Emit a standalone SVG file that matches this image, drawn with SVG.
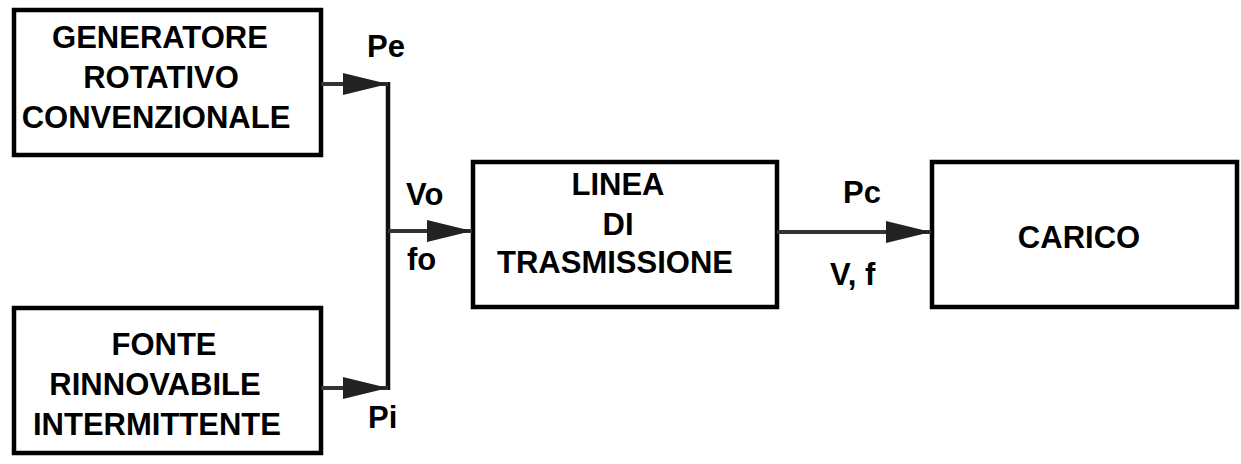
<svg xmlns="http://www.w3.org/2000/svg" width="1241" height="464" viewBox="0 0 1241 464">
<defs>
<style>
.box{fill:#fff;stroke:#000;stroke-width:4.5}
.t{font-family:"Liberation Sans",Arial,sans-serif;font-weight:bold;font-size:31px;fill:#000;text-anchor:middle}
.l{font-family:"Liberation Sans",Arial,sans-serif;font-weight:bold;font-size:31px;fill:#000}
.w{stroke:#111;stroke-width:4.5;fill:none}
.c{stroke:#333;stroke-width:4;fill:none}
</style>
<marker id="ah" markerUnits="userSpaceOnUse" markerWidth="46" markerHeight="26" refX="45" refY="13" orient="auto">
<path d="M0,2 L45,13 L0,24 Z" fill="#222"/>
</marker>
</defs>
<g id="generatore">
<rect class="box" x="14" y="10" width="307" height="145"/>
<text class="t" x="160" y="48">GENERATORE</text>
<text class="t" x="161" y="88">ROTATIVO</text>
<text class="t" x="156" y="128">CONVENZIONALE</text>
</g>
<g id="fonte">
<rect class="box" x="14" y="308" width="307" height="145"/>
<text class="t" x="164" y="355">FONTE</text>
<text class="t" x="155" y="395">RINNOVABILE</text>
<text class="t" x="157" y="435">INTERMITTENTE</text>
</g>
<g id="linea">
<rect class="box" x="473" y="162" width="304" height="145"/>
<text class="t" x="618" y="195">LINEA</text>
<text class="t" x="618" y="235">DI</text>
<text class="t" x="615" y="273">TRASMISSIONE</text>
</g>
<g id="carico">
<rect class="box" x="932" y="162" width="305" height="145"/>
<text class="t" x="1079" y="248">CARICO</text>
</g>
<g id="connectors">
<line class="w" x1="388" y1="82" x2="388" y2="390"/>
<line class="c" x1="321" y1="84" x2="388" y2="84" marker-end="url(#ah)"/>
<line class="c" x1="321" y1="388" x2="388" y2="388" marker-end="url(#ah)"/>
<line class="c" x1="388" y1="231" x2="472" y2="231" marker-end="url(#ah)"/>
<line class="c" x1="777" y1="232" x2="931" y2="232" marker-end="url(#ah)"/>
</g>
<g id="labels">
<text class="l" x="367" y="57">Pe</text>
<text class="l" x="368" y="428">Pi</text>
<text class="l" x="406" y="205">Vo</text>
<text class="l" x="407" y="270">fo</text>
<text class="l" x="843" y="203">Pc</text>
<text class="l" x="830" y="285">V, f</text>
</g>
</svg>
